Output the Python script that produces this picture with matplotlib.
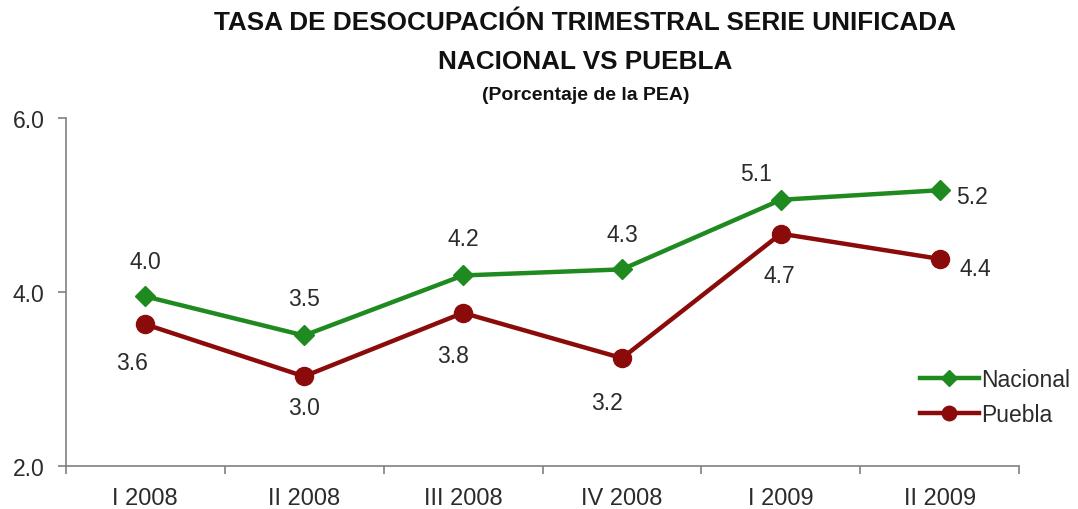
import matplotlib
matplotlib.use("Agg")
import matplotlib.pyplot as plt
import numpy as np

plt.rcParams["font.family"] = ["Liberation Sans", "DejaVu Sans"]

quarters = ["I 2008", "II 2008", "III 2008", "IV 2008", "I 2009", "II 2009"]
nacional = [3.95, 3.50, 4.19, 4.26, 5.06, 5.17]
puebla = [3.63, 3.03, 3.76, 3.24, 4.67, 4.38]

# label offsets in pixels (dx, dy)
nac_off = [(0, 35), (0, 37), (0, 37), (0, 35), (-25, 26), (32, -6)]
pue_off = [(-13, -38), (0, -31), (-10, -43), (-15, -44), (-2, -42), (35, -10)]

GREEN = "#1f8a1f"
RED = "#8b0a0a"
GRAY = "#808080"
TXT = "#2b2b2b"

fig = plt.figure(figsize=(10.78, 5.10), dpi=100)
ax = fig.add_axes([0.0608, 0.0843, 0.8849, 0.6824])

x = np.arange(len(quarters))
ax.plot(x, nacional, color=GREEN, lw=3.2, marker="D", markersize=10,
        label="Nacional", zorder=3)
ax.plot(x, puebla, color=RED, lw=3.2, marker="o", markersize=13,
        label="Puebla", zorder=3)

for xi, v, (dx, dy) in zip(x, nacional, nac_off):
    ax.annotate(f"{v:.1f}", (xi, v), xytext=(dx, dy), textcoords="offset pixels",
                ha="center", va="center", fontsize=16.5, color=TXT)
for xi, v, (dx, dy) in zip(x, puebla, pue_off):
    ax.annotate(f"{v:.1f}", (xi, v), xytext=(dx, dy), textcoords="offset pixels",
                ha="center", va="center", fontsize=16.5, color=TXT)

ax.set_xlim(-0.5, len(quarters) - 0.5)
ax.set_ylim(2, 6)
ax.set_yticks([2, 4, 6])
ax.set_yticklabels(["2.0", "4.0", "6.0"])
ax.set_xticks(x)
ax.set_xticklabels(quarters)
ax.set_xticks(np.arange(len(quarters) + 1) - 0.5, minor=True)
ax.tick_params(axis="x", which="major", length=0, pad=15, labelsize=17, labelcolor=TXT)
ax.tick_params(axis="x", which="minor", length=6, color=GRAY, width=1.2)
ax.tick_params(axis="y", length=6, color=GRAY, width=1.2, pad=9,
               labelsize=16.5, labelcolor=TXT)

for s in ["top", "right"]:
    ax.spines[s].set_visible(False)
for s in ["left", "bottom"]:
    ax.spines[s].set_color(GRAY)
    ax.spines[s].set_linewidth(1.2)

leg = ax.legend(loc="lower right", bbox_to_anchor=(1.075, 0.055), frameon=False,
                fontsize=16.5, handlelength=2.6, handletextpad=0.1,
                labelspacing=0.55, labelcolor=TXT, markerscale=0.8)

fig.text(0.543, 0.955, "TASA DE DESOCUPACIÓN TRIMESTRAL SERIE UNIFICADA",
         ha="center", va="center", fontsize=18.8, fontweight="bold", color="#111111")
fig.text(0.543, 0.878, "NACIONAL VS PUEBLA",
         ha="center", va="center", fontsize=18.8, fontweight="bold", color="#111111")
fig.text(0.543, 0.812, "(Porcentaje de la PEA)",
         ha="center", va="center", fontsize=14, fontweight="bold", color="#111111")

fig.savefig("out.png", dpi=100)
